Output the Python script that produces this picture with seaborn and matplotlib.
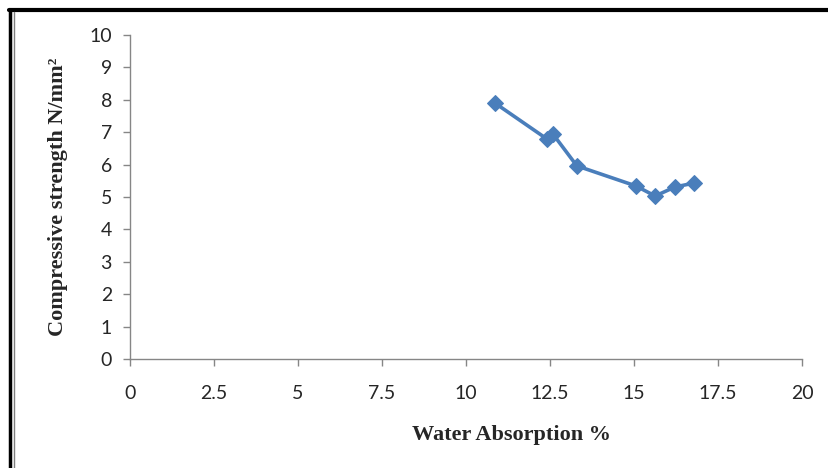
import numpy as np
import pandas as pd
import matplotlib
matplotlib.use("Agg")
import matplotlib.pyplot as plt
import seaborn as sns
from matplotlib.lines import Line2D

# data
water_absorption = [10.86, 12.41, 12.59, 13.30, 15.06, 15.63, 16.22, 16.79]
compressive_strength = [7.90, 6.79, 6.94, 5.96, 5.34, 5.03, 5.31, 5.43]
x_ticks = [0, 2.5, 5, 7.5, 10, 12.5, 15, 17.5, 20]
y_ticks = list(range(0, 11))

df = pd.DataFrame({"wa": water_absorption, "cs": compressive_strength})

sns.set_style("white")
plt.rcParams["font.family"] = ["Liberation Sans Narrow", "Lato", "DejaVu Sans"]

fig = plt.figure(figsize=(8.29, 4.68), dpi=100)
ax = fig.add_axes([130 / 829, 1 - 359 / 468, 672 / 829, 324 / 468])

blue = "#4A7EBB"
sns.lineplot(data=df, x="wa", y="cs", ax=ax, sort=False, color=blue,
             linewidth=2.6, marker="D", markersize=8, markeredgecolor=blue)

ax.set_xlim(0, 20)
ax.set_ylim(0, 10)
ax.set_xticks(x_ticks)
ax.set_xticklabels([f"{t:g}" for t in x_ticks])
ax.set_yticks(y_ticks)

for s in ["top", "right"]:
    ax.spines[s].set_visible(False)
for s in ["left", "bottom"]:
    ax.spines[s].set_color("#868686")
    ax.spines[s].set_linewidth(1)
ax.tick_params(axis="both", direction="out", length=5, width=1, color="#868686",
               labelsize=14, labelcolor="#262626", bottom=True, left=True)
ax.tick_params(axis="y", pad=8)
ax.tick_params(axis="x", pad=14)

serif = ["Liberation Serif", "DejaVu Serif"]
ax.set_xlabel("Water Absorption %", family=serif, fontweight="bold", fontsize=16)
ax.xaxis.set_label_coords((512 - 130) / 672, -(425 - 359) / 324)
ax.set_ylabel("Compressive strength N/mm²", family=serif, fontweight="bold", fontsize=16)
ax.yaxis.set_label_coords(-(130 - 68) / 672, 0.5)

# page border on top and left
fig.add_artist(Line2D([9 / 829, 1], [1 - 10 / 468, 1 - 10 / 468], color="black", linewidth=3))
fig.add_artist(Line2D([10 / 829, 10 / 829], [0, 1 - 10 / 468], color="black", linewidth=2.5))
fig.add_artist(Line2D([14 / 829, 14 / 829], [0, 1 - 12 / 468], color="#7f7f7f", linewidth=1))

fig.savefig("out.png", dpi=100)
